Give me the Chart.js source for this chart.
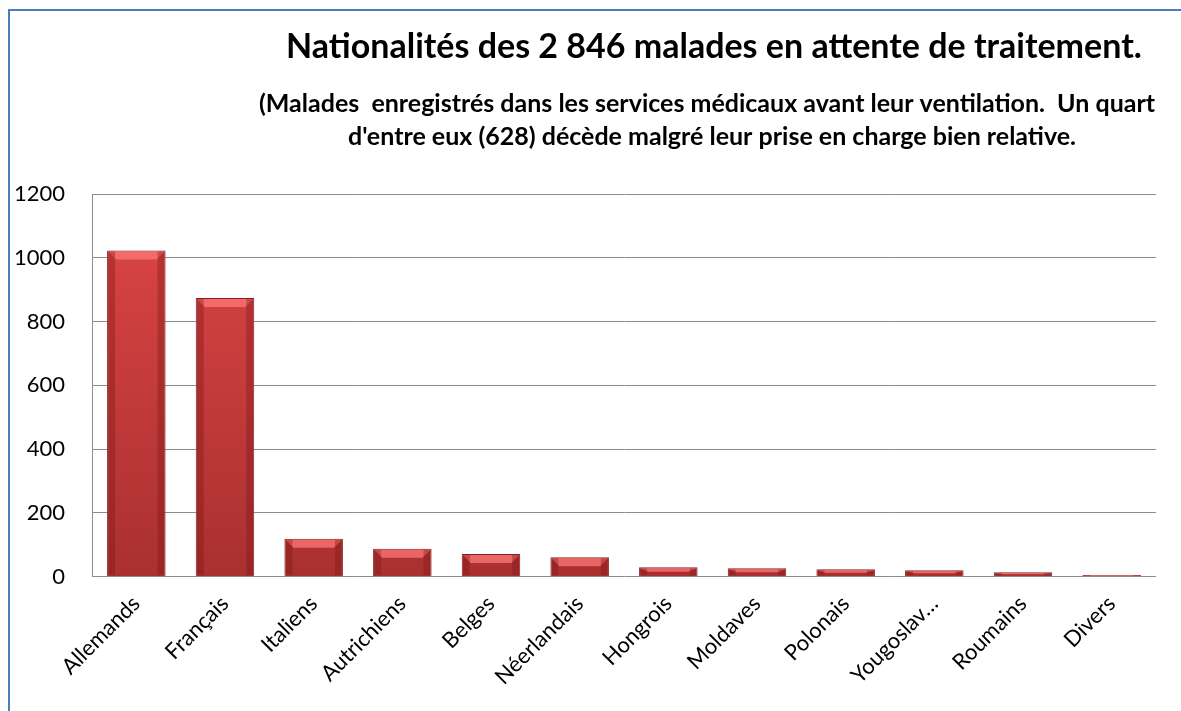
<!DOCTYPE html>
<html>
<head>
<meta charset="utf-8">
<script src="https://cdn.jsdelivr.net/npm/chart.js@4/dist/chart.umd.min.js"></script>
<style>
  body { margin: 0; background: #fff; }
  #cadre { position: absolute; left: 0; top: 0; width: 1181px; height: 711px; }
  #bord { position: absolute; left: 8px; top: 9px; width: 1200px; height: 800px;
          border-left: 2px solid #4A7EBB; border-top: 2px solid #4A7EBB; pointer-events: none; }
</style>
</head>
<body>
<div id="cadre"><canvas id="graphique"></canvas></div>
<div id="bord"></div>
<script>
const categories = ['Allemands', 'Français', 'Italiens', 'Autrichiens', 'Belges', 'Néerlandais',
  'Hongrois', 'Moldaves', 'Polonais', 'Yougoslav…', 'Roumains', 'Divers'];
const malades = [1023, 874, 119, 87, 71, 61, 29, 26, 23, 20, 14, 5];
const ticksY = [0, 200, 400, 600, 800, 1000, 1200];

const titre = 'Nationalités des 2 846 malades en attente de traitement.';
const sousTitre = [
  '(Malades  enregistrés dans les services médicaux avant leur ventilation.  Un quart',
  "d'entre eux (628) décède malgré leur prise en charge bien relative."
];

// titre centré comme dans la feuille d'origine (décalé vers la droite)
const entete = {
  id: 'entete',
  afterDraw(chart) {
    const ctx = chart.ctx;
    ctx.save();
    ctx.fillStyle = '#000';
    ctx.textAlign = 'center';
    ctx.textBaseline = 'middle';
    ctx.font = 'bold 34px Lato';
    ctx.fillText(titre, 714, 47);
    ctx.font = 'bold 25px Lato';
    ctx.fillText(sousTitre[0], 707, 104);
    ctx.fillText(sousTitre[1], 712, 137);
    ctx.restore();
  }
};

// petit biseau clair en haut de chaque barre
const biseau = {
  id: 'biseau',
  afterDatasetsDraw(chart) {
    const ctx = chart.ctx;
    const meta = chart.getDatasetMeta(0);
    ctx.save();
    meta.data.forEach(bar => {
      const l = bar.x - bar.width / 2, r = bar.x + bar.width / 2;
      const h = Math.min(9, (bar.base - bar.y) / 2);
      const e = Math.min(9, bar.width / 4);
      ctx.fillStyle = 'rgba(255,120,120,0.75)';
      ctx.beginPath();
      ctx.moveTo(l + 1, bar.y + 1);
      ctx.lineTo(r - 1, bar.y + 1);
      ctx.lineTo(r - e, bar.y + h);
      ctx.lineTo(l + e, bar.y + h);
      ctx.closePath();
      ctx.fill();
      ctx.fillStyle = 'rgba(120,20,20,0.35)';
      ctx.fillRect(l + 1, bar.y + 1, e - 2, bar.base - bar.y - 2);
      ctx.fillRect(r - e + 1, bar.y + 1, e - 2, bar.base - bar.y - 2);
    });
    ctx.restore();
  }
};

const degrade = (context) => {
  const area = context.chart.chartArea;
  if (!area) return '#c83838';
  const g = context.chart.ctx.createLinearGradient(0, area.top, 0, area.bottom);
  g.addColorStop(0, '#de4646');
  g.addColorStop(1, '#aa3030');
  return g;
};

new Chart(document.getElementById('graphique'), {
  type: 'bar',
  data: {
    labels: categories,
    datasets: [{
      data: malades,
      backgroundColor: degrade,
      borderColor: '#8a2222',
      borderWidth: 1,
      barPercentage: 0.66,
      categoryPercentage: 1
    }]
  },
  options: {
    responsive: true,
    maintainAspectRatio: false,
    animation: false,
    layout: { autoPadding: false, padding: { top: 194, left: 6, right: 25, bottom: 15 } },
    plugins: { legend: { display: false }, tooltip: { enabled: false } },
    scales: {
      x: {
        grid: { display: false },
        border: { display: false },
        ticks: {
          color: '#000', font: { family: 'Lato', size: 22 },
          minRotation: 45, maxRotation: 45, autoSkip: false, padding: 6
        }
      },
      y: {
        min: 0, max: 1200,
        afterBuildTicks(axis) { axis.ticks = ticksY.map(v => ({ value: v })); },
        afterFit(axis) { axis.width = 86; },
        grid: { color: '#8c8c8c', lineWidth: 1, drawTicks: false },
        border: { display: true, color: '#8c8c8c' },
        ticks: {
          color: '#000', font: { family: 'Lato', size: 22 }, padding: 27,
          callback: (v) => String(v)
        }
      }
    }
  },
  plugins: [entete, biseau]
});
</script>
</body>
</html>
